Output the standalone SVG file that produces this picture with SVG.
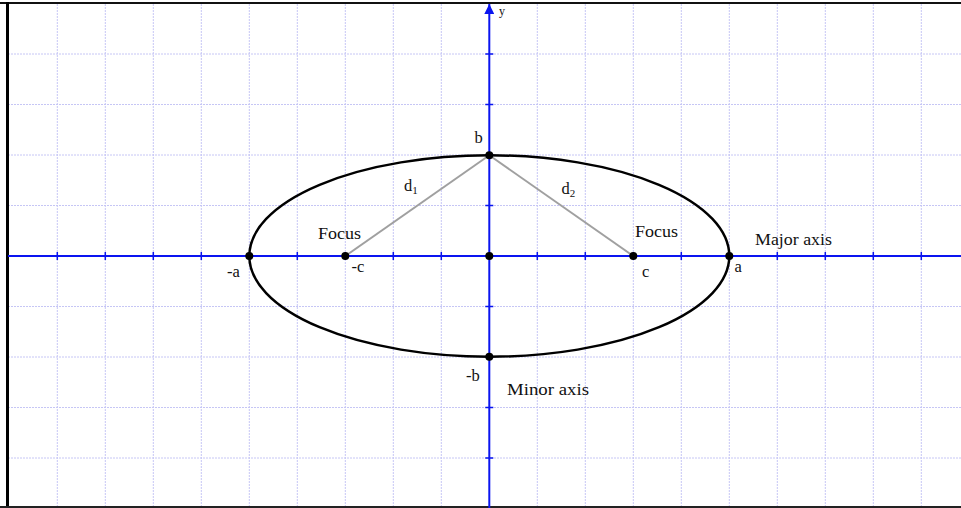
<svg xmlns="http://www.w3.org/2000/svg" width="961" height="508" viewBox="0 0 961 508">
<defs>
<style>
.grid{stroke:#c6c6f5;stroke-width:1;stroke-dasharray:2 1;fill:none}
.axis{stroke:#0a14f0;stroke-width:2;fill:none}
.tick{stroke:#0a14f0;stroke-width:1.5}
.seg{stroke:#a0a0a0;stroke-width:2}
.pt{fill:#000}
text{font-family:"Liberation Serif","Times New Roman",serif;font-size:16.5px;fill:#111}
.sub{font-size:11px}
</style>
<marker id="arr" viewBox="0 0 10 10" refX="10" refY="5" markerWidth="5" markerHeight="5" orient="auto" markerUnits="strokeWidth">
<path d="M0,0 L10,5 L0,10 z" fill="#0a14f0"/>
</marker>
</defs>
<rect x="0" y="0" width="961" height="508" fill="#fff"/>
<g id="grid" class="grid">
<path d="M57.3,4V507M105.3,4V507M153.3,4V507M201.3,4V507M249.3,4V507M297.3,4V507M345.3,4V507M393.3,4V507M441.3,4V507M537.3,4V507M585.3,4V507M633.3,4V507M681.3,4V507M729.3,4V507M777.3,4V507M825.3,4V507M873.3,4V507M921.3,4V507"/>
<path d="M8,54H961M8,104.5H961M8,155H961M8,205.5H961M8,306.5H961M8,357H961M8,407.5H961M8,458H961"/>
</g>
<g id="frame">
<line x1="0" y1="3" x2="961" y2="3" stroke="#111" stroke-width="2"/>
<line x1="7.5" y1="2" x2="7.5" y2="508" stroke="#000" stroke-width="3"/>
<line x1="0" y1="507" x2="961" y2="507" stroke="#222" stroke-width="2"/>
</g>
<g id="axes">
<line class="axis" x1="8" y1="256" x2="961" y2="256"/>
<line class="axis" x1="489.3" y1="508" x2="489.3" y2="4" marker-end="url(#arr)"/>
<path class="tick" d="M57.3,252V260M105.3,252V260M153.3,252V260M201.3,252V260M249.3,252V260M297.3,252V260M345.3,252V260M393.3,252V260M441.3,252V260M537.3,252V260M585.3,252V260M633.3,252V260M681.3,252V260M729.3,252V260M777.3,252V260M825.3,252V260M873.3,252V260M921.3,252V260"/>
<path class="tick" d="M485.3,54H493.3M485.3,104.5H493.3M485.3,155H493.3M485.3,205.5H493.3M485.3,306.5H493.3M485.3,357H493.3M485.3,407.5H493.3M485.3,458H493.3"/>
<text x="499" y="15" style="font-size:12px">y</text>
</g>
<g id="ellipse">
<ellipse cx="489.3" cy="256" rx="240" ry="100.7" fill="none" stroke="#000" stroke-width="2.5"/>
</g>
<g id="connectors">
<line class="seg" x1="345.3" y1="256" x2="489.3" y2="155.3"/>
<line class="seg" x1="489.3" y1="155.3" x2="633.3" y2="256"/>
</g>
<g id="points">
<circle class="pt" cx="249.3" cy="256" r="4"/>
<circle class="pt" cx="345.3" cy="256" r="4"/>
<circle class="pt" cx="489.3" cy="256" r="4"/>
<circle class="pt" cx="633.3" cy="256" r="4"/>
<circle class="pt" cx="729.3" cy="256" r="4"/>
<circle class="pt" cx="489.3" cy="155.3" r="4"/>
<circle class="pt" cx="489.3" cy="356.7" r="4"/>
</g>
<g id="labels">
<text x="474.5" y="143">b</text>
<text x="466" y="381">-b</text>
<text x="227" y="277">-a</text>
<text x="734.5" y="271.5">a</text>
<text x="351.5" y="272">-c</text>
<text x="642" y="277">c</text>
<text x="318" y="238.5" textLength="43" lengthAdjust="spacingAndGlyphs">Focus</text>
<text x="635" y="236.5" textLength="43" lengthAdjust="spacingAndGlyphs">Focus</text>
<text x="755" y="244.5" textLength="77" lengthAdjust="spacingAndGlyphs">Major axis</text>
<text x="507" y="394.5" textLength="82" lengthAdjust="spacingAndGlyphs">Minor axis</text>
<text x="404" y="191">d<tspan class="sub" dy="3">1</tspan></text>
<text x="561.5" y="194">d<tspan class="sub" dy="3">2</tspan></text>
</g>
</svg>
